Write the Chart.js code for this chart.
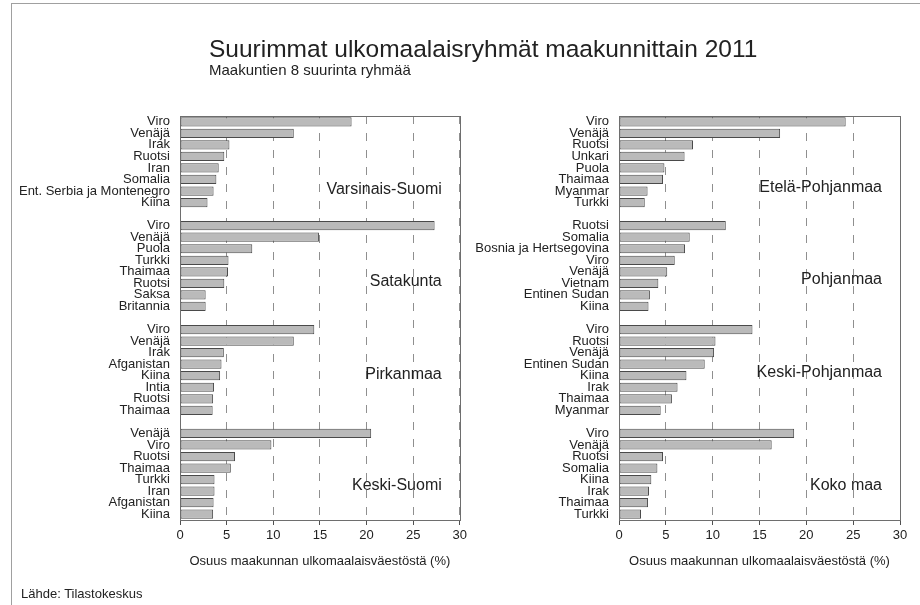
<!DOCTYPE html>
<html><head><meta charset="utf-8">
<script src="https://cdn.jsdelivr.net/npm/chart.js@4/dist/chart.umd.min.js"></script>
<style>
html,body{margin:0;padding:0;background:#fff;}
body{width:920px;height:605px;position:relative;overflow:hidden;font-family:"Liberation Sans",Arial,sans-serif;color:#222;}
#frame{position:absolute;left:11px;top:3px;width:930px;height:620px;border:1.5px solid #a0a0a0;box-sizing:border-box;}
#title{position:absolute;left:209px;top:37px;font-size:24.5px;line-height:24px;white-space:nowrap;color:#222;}
#subtitle{position:absolute;left:209px;top:62px;font-size:15px;line-height:15px;white-space:nowrap;color:#222;}
#source{position:absolute;left:21px;top:586px;font-size:13px;line-height:15px;white-space:nowrap;color:#222;}
canvas{position:absolute;top:0;}
#cl{left:0;}
#cr{left:460px;}
</style></head>
<body>
<div id="frame"></div>
<canvas id="cl" width="470" height="605"></canvas>
<canvas id="cr" width="460" height="605"></canvas>
<div id="title">Suurimmat ulkomaalaisryhmät maakunnittain 2011</div>
<div id="subtitle">Maakuntien 8 suurinta ryhmää</div>
<div id="source">Lähde: Tilastokeskus</div>
<script>
// ---- data ----
const leftRegions = ['Varsinais-Suomi', 'Satakunta', 'Pirkanmaa', 'Keski-Suomi'];
const rightRegions = ['Etelä-Pohjanmaa', 'Pohjanmaa', 'Keski-Pohjanmaa', 'Koko maa'];

const varsinaisSuomiGroups = ['Viro', 'Venäjä', 'Irak', 'Ruotsi', 'Iran', 'Somalia', 'Ent. Serbia ja Montenegro', 'Kiina'];
const varsinaisSuomiValues = [18.4, 12.2, 5.3, 4.75, 4.15, 3.9, 3.6, 2.95];

const satakuntaGroups = ['Viro', 'Venäjä', 'Puola', 'Turkki', 'Thaimaa', 'Ruotsi', 'Saksa', 'Britannia'];
const satakuntaValues = [27.3, 14.9, 7.75, 5.2, 5.15, 4.75, 2.75, 2.75];

const pirkanmaaGroups = ['Viro', 'Venäjä', 'Irak', 'Afganistan', 'Kiina', 'Intia', 'Ruotsi', 'Thaimaa'];
const pirkanmaaValues = [14.4, 12.2, 4.7, 4.45, 4.3, 3.65, 3.55, 3.5];

const keskiSuomiGroups = ['Venäjä', 'Viro', 'Ruotsi', 'Thaimaa', 'Turkki', 'Iran', 'Afganistan', 'Kiina'];
const keskiSuomiValues = [20.5, 9.8, 5.9, 5.45, 3.7, 3.7, 3.6, 3.55];

const etelaPohjanmaaGroups = ['Viro', 'Venäjä', 'Ruotsi', 'Unkari', 'Puola', 'Thaimaa', 'Myanmar', 'Turkki'];
const etelaPohjanmaaValues = [24.2, 17.2, 7.9, 7.0, 4.85, 4.7, 3.05, 2.75];

const pohjanmaaGroups = ['Ruotsi', 'Somalia', 'Bosnia ja Hertsegovina', 'Viro', 'Venäjä', 'Vietnam', 'Entinen Sudan', 'Kiina'];
const pohjanmaaValues = [11.4, 7.55, 7.05, 5.95, 5.15, 4.2, 3.3, 3.15];

const keskiPohjanmaaGroups = ['Viro', 'Ruotsi', 'Venäjä', 'Entinen Sudan', 'Kiina', 'Irak', 'Thaimaa', 'Myanmar'];
const keskiPohjanmaaValues = [14.25, 10.3, 10.15, 9.15, 7.2, 6.25, 5.65, 4.45];

const kokoMaaGroups = ['Viro', 'Venäjä', 'Ruotsi', 'Somalia', 'Kiina', 'Irak', 'Thaimaa', 'Turkki'];
const kokoMaaValues = [18.7, 16.3, 4.7, 4.1, 3.45, 3.2, 3.1, 2.35];

const xTicks = [0, 5, 10, 15, 20, 25, 30];
const xAxisTitle = 'Osuus maakunnan ulkomaalaisväestöstä (%)';

// rows (category positions) of the region names inside each panel
const leftRegionRows = [5.85, 13.86, 21.86, 31.5];
const rightRegionRows = [5.7, 13.7, 21.7, 31.5];

// ---- build ----
function build(groups, values) {
  const labels = [], data = [];
  groups.forEach((g, i) => {
    if (i > 0) { labels.push(''); data.push(null); }
    labels.push(...g);
    data.push(...values[i]);
  });
  return {labels, data};
}

const FONT = '"Liberation Sans", Arial, sans-serif';

const panelPlugin = {
  id: 'panelDeco',
  afterDatasetsDraw(chart, args, opts) {
    const {ctx, chartArea, scales: {y}} = chart;
    ctx.save();
    ctx.strokeStyle = '#6e6e6e';
    ctx.lineWidth = 1;
    ctx.strokeRect(Math.round(chartArea.left) + 0.5, Math.round(chartArea.top) + 0.5,
      Math.round(chartArea.right - chartArea.left), Math.round(chartArea.bottom - chartArea.top));
    ctx.font = '16px ' + FONT;
    ctx.fillStyle = '#222';
    ctx.textAlign = 'right';
    ctx.textBaseline = 'middle';
    opts.names.forEach((n, i) => {
      ctx.fillText(n, chartArea.right - opts.inset, y.getPixelForValue(opts.rows[i]));
    });
    ctx.restore();
  }
};

function makeChart(id, built, yWidth, padRight, names, rows, inset) {
  return new Chart(document.getElementById(id), {
    type: 'bar',
    data: {
      labels: built.labels,
      datasets: [{
        data: built.data,
        backgroundColor: '#bababa',
        borderColor: '#4a4a4a',
        borderWidth: 1,
        borderSkipped: false,
        barPercentage: 0.8,
        categoryPercentage: 1.0
      }]
    },
    options: {
      indexAxis: 'y',
      responsive: false,
      animation: false,
      devicePixelRatio: 1,
      layout: {padding: {left: 0, right: padRight, top: 116, bottom: 0}},
      plugins: {
        legend: {display: false},
        tooltip: {enabled: false},
        panelDeco: {names, rows, inset}
      },
      scales: {
        x: {
          type: 'linear',
          min: 0, max: 30,
          afterBuildTicks: s => { s.ticks = xTicks.map(v => ({value: v})); },
          afterFit: s => { s.height = 85; },
          grid: {
            color: '#8f8f8f', lineWidth: 1, drawTicks: true, tickLength: 5,
            tickColor: '#505050', tickWidth: 1
          },
          border: {display: false, dash: [8, 9]},
          ticks: {font: {size: 13, family: FONT}, color: '#222', padding: 3, maxRotation: 0},
          title: {display: true, text: xAxisTitle, font: {size: 13, family: FONT}, color: '#222', padding: {top: 0, bottom: 36}}
        },
        y: {
          type: 'category',
          afterFit: s => { s.width = yWidth; },
          grid: {display: false, drawTicks: false},
          border: {display: false},
          ticks: {autoSkip: false, font: {size: 13, family: FONT}, color: '#222', padding: 10}
        }
      }
    },
    plugins: [panelPlugin]
  });
}

const leftBuilt = build(
  [varsinaisSuomiGroups, satakuntaGroups, pirkanmaaGroups, keskiSuomiGroups],
  [varsinaisSuomiValues, satakuntaValues, pirkanmaaValues, keskiSuomiValues]);
const rightBuilt = build(
  [etelaPohjanmaaGroups, pohjanmaaGroups, keskiPohjanmaaGroups, kokoMaaGroups],
  [etelaPohjanmaaValues, pohjanmaaValues, keskiPohjanmaaValues, kokoMaaValues]);

makeChart('cl', leftBuilt, 180, 10, leftRegions, leftRegionRows, 18);
makeChart('cr', rightBuilt, 159, 20, rightRegions, rightRegionRows, 18);
</script>
</body></html>
